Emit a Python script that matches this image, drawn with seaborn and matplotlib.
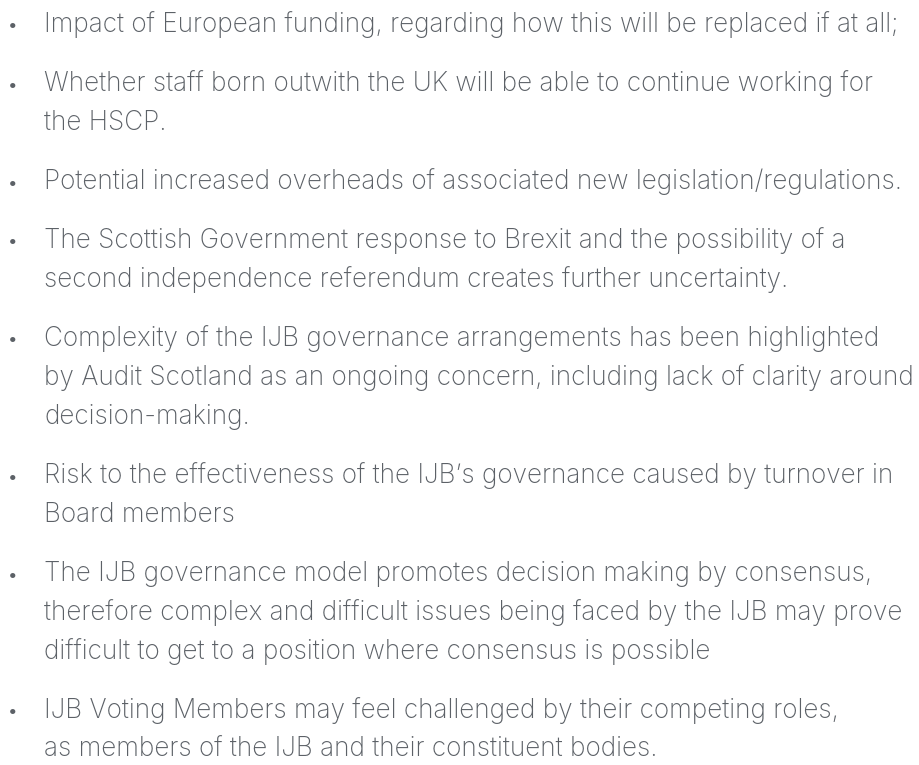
import matplotlib
matplotlib.use("Agg")
import matplotlib.pyplot as plt
import seaborn as sns

# bullet items, each one a list of the wrapped lines as shown
items = [
    ["Impact of European funding, regarding how this will be replaced if at all;"],
    ["Whether staff born outwith the UK will be able to continue working for",
     "the HSCP."],
    ["Potential increased overheads of associated new legislation/regulations."],
    ["The Scottish Government response to Brexit and the possibility of a",
     "second independence referendum creates further uncertainty."],
    ["Complexity of the IJB governance arrangements has been highlighted",
     "by Audit Scotland as an ongoing concern, including lack of clarity around",
     "decision-making."],
    ["Risk to the effectiveness of the IJB\u2019s governance caused by turnover in",
     "Board members"],
    ["The IJB governance model promotes decision making by consensus,",
     "therefore complex and difficult issues being faced by the IJB may prove",
     "difficult to get to a position where consensus is possible"],
    ["IJB Voting Members may feel challenged by their competing roles,",
     "as members of the IJB and their constituent bodies."],
]

sns.set_theme(style="white")
plt.rcParams['font.family'] = ['Inter', 'DejaVu Sans']

W, H = 919, 765
fig = plt.figure(figsize=(W/100, H/100), dpi=100)
fig.patch.set_facecolor("white")

col = "#5c6167"
line_h = 39
item_gap = 59
y = 25
for lines in items:
    fig.text(13/W, 1 - (y + 1)/H, "\u2022", fontsize=12, color=col, va="center", ha="center")
    for ln in lines:
        fig.text(44/W, 1 - y/H, ln, fontsize=18.8, color=col, va="center",
                 ha="left", fontweight="light")
        y += line_h
    y += item_gap - line_h

plt.savefig("out.png", dpi=100, facecolor="white")
